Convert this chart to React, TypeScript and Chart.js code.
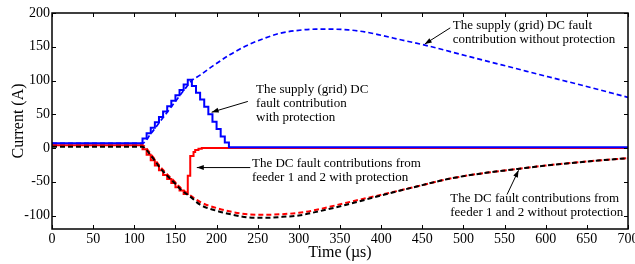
import React, { useEffect, useRef } from "react";
import { Chart, registerables } from "chart.js";

Chart.register(...registerables);

// ---- data ----
const xTickValues = [0, 50, 100, 150, 200, 250, 300, 350, 400, 450, 500, 550, 600, 650, 700];
const yTickValues = [-100, -50, 0, 50, 100, 150, 200];

// supply (grid) with protection
const gridProtT = [0, 110, 115, 120, 125, 130, 135, 140, 145, 150, 155, 160, 165, 170, 175, 180, 185, 190, 195, 200, 205, 210, 215, 222, 700];
const gridProtV = [7, 7, 14, 22, 30, 38, 46, 54, 62, 70, 78, 86, 94, 101, 92, 82, 72, 61, 50, 39, 28, 17, 8, 1, 1];

// supply (grid) without protection
const gridNoProtT = [0, 110, 120, 130, 140, 150, 160, 170, 180, 196, 216, 237, 257, 277, 297, 320, 340, 360, 380, 400, 425, 453, 502, 563, 603, 644, 700];
const gridNoProtV = [7, 7, 21, 37, 53, 69, 85, 100, 108, 122, 138, 152, 162, 170, 174, 176, 176, 175, 172, 167, 160, 152.5, 137, 118, 105.5, 93, 75];

// feeders with protection
const feedProtT = [0, 110, 115, 120, 125, 130, 135, 140, 145, 150, 155, 160, 165, 168, 172, 174, 178, 182, 190, 700];
const feedProtV = [4, 4, -2, -10, -18, -26, -33, -40, -46, -52, -58, -63, -68, -41, -12, -6, -3, -1, 0, 0];

// feeders without protection (black and red dashed)
const feedNoProtT = [0, 110, 115, 120, 125, 131, 140, 150, 156, 168, 180, 200, 220, 240, 260, 280, 300, 320, 358, 401, 450, 481, 520, 566, 600, 650, 700];
const feedNoProtBlackV = [2, 2, -3, -11, -19, -29, -41, -53, -61, -72, -84, -93, -99, -103, -103.5, -102, -100, -95, -84, -70, -55, -46, -38, -31, -26, -20, -15];
const feedNoProtRedV = [4, 4, -1, -9, -17, -27, -39, -51, -59, -70, -80, -89, -95, -98.5, -99, -98, -96, -92, -81, -69, -55, -46, -38, -31, -26, -20, -15];

// annotations: text lines, text anchor (data), arrow tail & head (data)
const annoTexts = [
  ["The supply (grid) DC fault", "contribution without protection"],
  ["The supply (grid) DC", "fault contribution", "with protection"],
  ["The DC fault contributions from", "feeder 1 and 2 with protection"],
  ["The DC fault contributions from", "feeder 1 and 2 without protection"],
];
const annoTextPos = [
  [487, 182],
  [248, 87],
  [243, -22.4],
  [484, -75],
];
const annoArrowFrom = [
  [484, 178],
  [238, 69],
  [241, -29],
  [553, -69],
];
const annoArrowTo = [
  [453, 154],
  [194, 53],
  [176, -29],
  [567, -33],
];

const pts = (t: number[], v: number[]) => t.map((x, i) => ({ x, y: v[i] }));

const SERIF = "'Liberation Serif', 'Times New Roman', serif";

const framePlugin = {
  id: "frame",
  afterDraw(chart: any) {
    const { ctx, chartArea: a, scales } = chart;
    const xs = scales.x;
    const ys = scales.y;
    ctx.save();
    ctx.strokeStyle = "#000";
    // inward ticks
    ctx.lineWidth = 1;
    const tl = 4;
    ctx.beginPath();
    for (const v of xTickValues) {
      const px = Math.round(xs.getPixelForValue(v)) + 0.5;
      ctx.moveTo(px, a.bottom);
      ctx.lineTo(px, a.bottom - tl);
      ctx.moveTo(px, a.top);
      ctx.lineTo(px, a.top + tl);
    }
    for (const v of yTickValues) {
      const py = Math.round(ys.getPixelForValue(v)) + 0.5;
      ctx.moveTo(a.left, py);
      ctx.lineTo(a.left + tl, py);
      ctx.moveTo(a.right, py);
      ctx.lineTo(a.right - tl, py);
    }
    ctx.stroke();
    // frame
    ctx.lineWidth = 1.5;
    ctx.strokeRect(a.left, a.top, a.right - a.left, a.bottom - a.top);

    // annotations
    ctx.fillStyle = "#000";
    ctx.font = `13px ${SERIF}`;
    ctx.textBaseline = "middle";
    ctx.textAlign = "left";
    annoTexts.forEach((lines, i) => {
      const tx = xs.getPixelForValue(annoTextPos[i][0]);
      const ty = ys.getPixelForValue(annoTextPos[i][1]);
      lines.forEach((ln, j) => ctx.fillText(ln, tx, ty + j * 14));
      const x1 = xs.getPixelForValue(annoArrowFrom[i][0]);
      const y1 = ys.getPixelForValue(annoArrowFrom[i][1]);
      const x2 = xs.getPixelForValue(annoArrowTo[i][0]);
      const y2 = ys.getPixelForValue(annoArrowTo[i][1]);
      ctx.lineWidth = 1;
      ctx.beginPath();
      ctx.moveTo(x1, y1);
      ctx.lineTo(x2, y2);
      ctx.stroke();
      const ang = Math.atan2(y2 - y1, x2 - x1);
      const hl = 7;
      const hw = 2.5;
      ctx.beginPath();
      ctx.moveTo(x2, y2);
      ctx.lineTo(x2 - hl * Math.cos(ang) + hw * Math.sin(ang), y2 - hl * Math.sin(ang) - hw * Math.cos(ang));
      ctx.lineTo(x2 - hl * Math.cos(ang) - hw * Math.sin(ang), y2 - hl * Math.sin(ang) + hw * Math.cos(ang));
      ctx.closePath();
      ctx.fill();
    });
    ctx.restore();
  },
};

export default function App() {
  const ref = useRef<HTMLCanvasElement>(null);
  useEffect(() => {
    document.body.style.margin = "0";
    const canvas = ref.current!;
    const chart = new Chart(canvas, {
      type: "line",
      data: {
        datasets: [
          {
            label: "grid with protection",
            data: pts(gridProtT, gridProtV),
            borderColor: "#0000ff",
            borderWidth: 2,
            stepped: "after",
          },
          {
            label: "feeders without protection (black)",
            data: pts(feedNoProtT, feedNoProtBlackV),
            borderColor: "#000000",
            borderWidth: 2,
            borderDash: [5, 3],
            cubicInterpolationMode: "monotone",
          },
          {
            label: "feeders with protection",
            data: pts(feedProtT, feedProtV),
            borderColor: "#ff0000",
            borderWidth: 2,
            stepped: "after",
          },
          {
            label: "feeders without protection (red)",
            data: pts(feedNoProtT, feedNoProtRedV),
            borderColor: "#ff0000",
            borderWidth: 2,
            borderDash: [5, 3],
            cubicInterpolationMode: "monotone",
          },
          {
            label: "grid without protection",
            data: pts(gridNoProtT, gridNoProtV),
            borderColor: "#0000ff",
            borderWidth: 1.7,
            borderDash: [5, 3],
            cubicInterpolationMode: "monotone",
          },
        ],
      },
      options: {
        responsive: false,
        animation: false,
        devicePixelRatio: 1,
        parsing: false as any,
        layout: { padding: { top: 13, right: 22, left: 0, bottom: 0 } },
        elements: { point: { radius: 0 }, line: { fill: false } },
        plugins: { legend: { display: false }, tooltip: { enabled: false } },
        scales: {
          x: {
            type: "linear",
            min: 0,
            max: 700,
            afterBuildTicks: (s: any) => {
              s.ticks = xTickValues.map((v) => ({ value: v }));
            },
            afterFit: (s: any) => {
              s.height = 35;
            },
            grid: { display: false, drawTicks: false },
            border: { display: false },
            ticks: {
              color: "#000",
              padding: 2,
              maxRotation: 0,
              autoSkip: false,
              font: { family: SERIF, size: 14 },
            },
            title: {
              display: true,
              text: "Time (\u00b5s)",
              color: "#000",
              padding: { top: 0, bottom: 1.5 },
              font: { family: SERIF, size: 16 },
            },
          },
          y: {
            type: "linear",
            min: -120,
            max: 200,
            afterBuildTicks: (s: any) => {
              s.ticks = yTickValues.map((v) => ({ value: v }));
            },
            afterFit: (s: any) => {
              s.width = 52;
            },
            grid: { display: false, drawTicks: false },
            border: { display: false },
            ticks: {
              color: "#000",
              padding: 2,
              autoSkip: false,
              font: { family: SERIF, size: 14 },
            },
            title: {
              display: true,
              text: "Current (A)",
              color: "#000",
              padding: { top: 9, bottom: 0 },
              font: { family: SERIF, size: 16 },
            },
          },
        },
      },
      plugins: [framePlugin],
    });
    return () => chart.destroy();
  }, []);
  return (
    <div style={{ width: 635, height: 264, overflow: "hidden", background: "#fff" }}>
      <canvas ref={ref} width={650} height={264} style={{ display: "block" }} />
    </div>
  );
}
